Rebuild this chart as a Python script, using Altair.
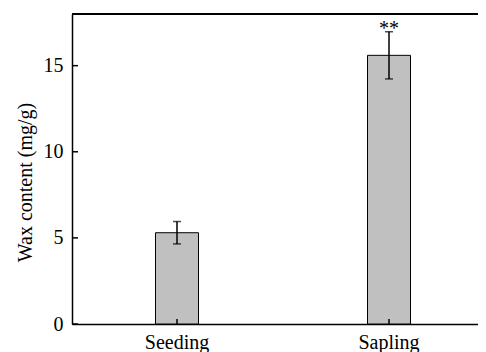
import altair as alt
import pandas as pd

stages = ["Seeding", "Sapling"]
means = [5.3, 15.6]
errs = [0.65, 1.37]
signif = ["", "**"]
y_ticks = [0, 5, 10, 15]

df = pd.DataFrame({
    "stage": stages,
    "mean": means,
    "err": errs,
    "sig": signif,
})
df["lo"] = df["mean"] - df["err"]
df["hi"] = df["mean"] + df["err"]
ticks_df = pd.DataFrame({"v": y_ticks})

FONT = "'Times New Roman', 'Liberation Serif', serif"
W, H = 406, 310

xscale = alt.Scale(domain=stages, paddingInner=0.8, paddingOuter=0.3575, align=0.5528)
yscale = alt.Scale(domain=[0, 18], nice=False, zero=True)

base = alt.Chart(df)

bars = base.mark_bar(size=43, fill="#c0c0c0", stroke="black", strokeWidth=1).encode(
    x=alt.X("stage:N", scale=xscale, sort=stages,
            axis=alt.Axis(title=None, labelAngle=0, ticks=False, labelPadding=24,
                          labelBaseline="alphabetic",
                          domainColor="black", domainWidth=1.5,
                          labelFont=FONT, labelFontSize=20, labelColor="black")),
    y=alt.Y("mean:Q", scale=yscale,
            axis=alt.Axis(title="Wax content (mg/g)", values=y_ticks, ticks=False,
                          labelPadding=9, domainColor="black", domainWidth=1.5, grid=False,
                          labelFont=FONT, labelFontSize=20, labelColor="black",
                          titleFont=FONT, titleFontSize=20, titleFontWeight="normal",
                          titleColor="black", titleAngle=-90, titleAlign="center",
                          titleBaseline="middle", titleX=-47, titleY=168)),
)

err_line = base.mark_rule(color="black", strokeWidth=1.5).encode(
    x=alt.X("stage:N", scale=xscale, sort=stages),
    y=alt.Y("lo:Q", scale=yscale),
    y2="hi:Q",
)
cap_hi = base.mark_tick(color="black", size=8, thickness=1.5, orient="horizontal").encode(
    x=alt.X("stage:N", scale=xscale, sort=stages),
    y=alt.Y("hi:Q", scale=yscale),
)
cap_lo = base.mark_tick(color="black", size=8, thickness=1.5, orient="horizontal").encode(
    x=alt.X("stage:N", scale=xscale, sort=stages),
    y=alt.Y("lo:Q", scale=yscale),
)
stars = base.mark_text(font=FONT, fontSize=20, color="black", baseline="alphabetic", dy=3).encode(
    x=alt.X("stage:N", scale=xscale, sort=stages),
    y=alt.Y("hi:Q", scale=yscale),
    text="sig:N",
)

x_ticks = base.mark_rule(color="black", strokeWidth=1.5).encode(
    x=alt.X("stage:N", scale=xscale, sort=stages),
    y=alt.value(H),
    y2=alt.value(H - 5),
)
y_tick_marks = alt.Chart(ticks_df).mark_rule(color="black", strokeWidth=1.5).encode(
    y=alt.Y("v:Q", scale=yscale),
    x=alt.value(0),
    x2=alt.value(6),
)
top_line = alt.Chart(ticks_df).mark_rule(color="black", strokeWidth=1.5).encode(
    y=alt.datum(18),
)

chart = alt.layer(bars, err_line, cap_hi, cap_lo, stars, x_ticks, y_tick_marks, top_line).properties(
    width=W, height=H,
    autosize=alt.AutoSizeParams(type="none"),
    padding={"left": 64, "top": 6, "right": 0, "bottom": 30},
).configure_view(stroke=None).configure(background="white")

chart.save("out.html", embed_options={"renderer": "svg", "actions": False})
